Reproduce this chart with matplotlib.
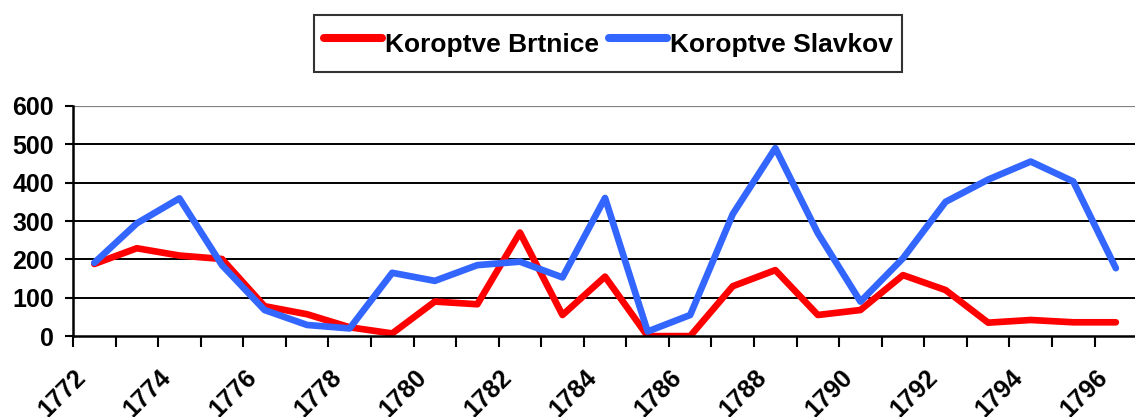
import numpy as np
import matplotlib
matplotlib.use("Agg")
import matplotlib.pyplot as plt
from matplotlib.transforms import ScaledTranslation

plt.rcParams['font.family'] = ['Liberation Sans', 'DejaVu Sans']
plt.rcParams['font.weight'] = 'bold'

# data (1772 - 1796)
years = list(range(1772, 1797))
brtnice = [188, 229, 210, 201, 78, 57, 23, 7, 90, 83, 270, 55, 155,
           0, 0, 130, 172, 55, 68, 159, 120, 35, 42, 36, 36]
slavkov = [191, 294, 359, 185, 68, 29, 20, 165, 144, 185, 194, 153, 360,
           12, 55, 318, 490, 268, 90, 203, 350, 408, 455, 403, 177]
yticks = [0, 100, 200, 300, 400, 500, 600]

fig = plt.figure(figsize=(11.35, 4.17), dpi=100)
ax = fig.add_axes([0.0643, 0.194, 0.9357, 0.552])

x = np.arange(len(years))
ax.plot(x, brtnice, color='#FF0000', lw=4.8, label='Koroptve Brtnice',
        solid_capstyle='round')
ax.plot(x, slavkov, color='#3366FF', lw=4.8, label='Koroptve Slavkov',
        solid_capstyle='round')

ax.set_xlim(-0.5, 24.45)
ax.set_ylim(0, 600)
ax.set_yticks(yticks)
for v in yticks[1:-1]:
    ax.axhline(v, color='black', lw=1.4, zorder=0)
ax.axhline(600, color='#808080', lw=1.6, zorder=0)

# category boundaries get the tick marks, labels sit in the middle
ax.set_xticks(x[::2])
ax.set_xticklabels([str(y) for y in years[::2]], rotation=45, ha='right',
                   va='center', rotation_mode='anchor')
ax.set_xticks(np.arange(-0.5, 24.5, 1.0), minor=True)
ax.tick_params(axis='x', which='major', length=0, pad=27, labelsize=18)
ax.tick_params(axis='x', which='minor', length=7.7, width=1.5, direction='out')
ax.tick_params(axis='y', length=5.8, width=1.5, direction='out', labelsize=18, pad=8)
shift = ScaledTranslation(-0.12, 0, fig.dpi_scale_trans)
for lab in ax.get_xticklabels():
    lab.set_transform(lab.get_transform() + shift)

for s in ['top', 'right']:
    ax.spines[s].set_visible(False)
ax.spines['left'].set_linewidth(1.8)
ax.spines['bottom'].set_linewidth(1.8)

leg = fig.legend(loc='upper center', bbox_to_anchor=(0.536, 0.964), ncol=2,
                 frameon=True, fancybox=False, edgecolor='black',
                 fontsize=19, handlelength=2.2, handletextpad=0.12,
                 handleheight=1.85, columnspacing=0.38, borderpad=0.35,
                 borderaxespad=0)
leg.get_frame().set_linewidth(1.5)
for line in leg.get_lines():
    line.set_linewidth(5.8)

fig.savefig('out.png', dpi=100)
